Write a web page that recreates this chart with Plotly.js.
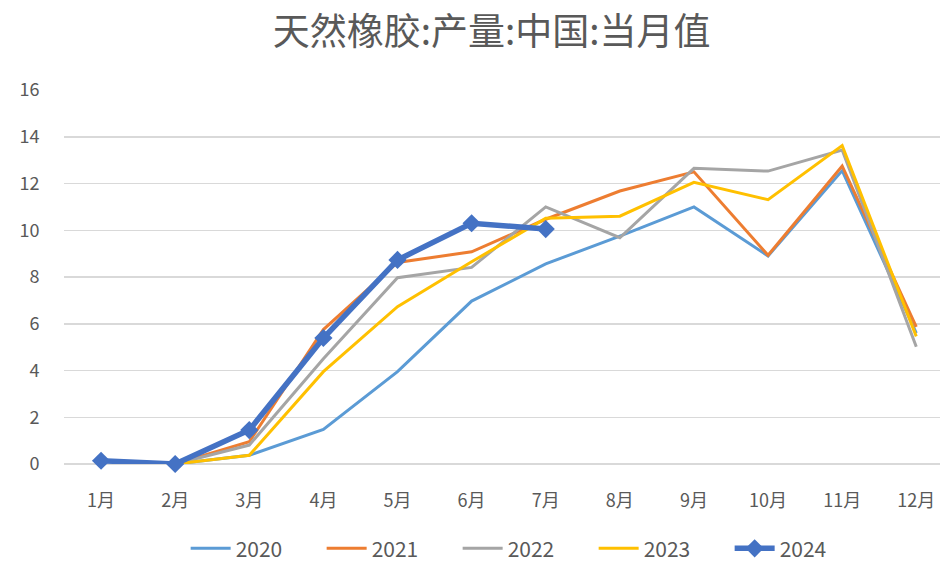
<!DOCTYPE html>
<html>
<head>
<meta charset="utf-8">
<script src="https://cdn.plot.ly/plotly-3.0.1.min.js"></script>
<style>
  html, body { margin: 0; padding: 0; background: #fff; }
  #chart { width: 940px; height: 561px; }
</style>
</head>
<body>
<div id="chart"></div>
<script>
var months = ['1月', '2月', '3月', '4月', '5月', '6月', '7月', '8月', '9月', '10月', '11月', '12月'];

// 2020-2023 have no January value (Jan+Feb reported together)
var y2020 = [null, 0, 0.37, 1.48, 3.95, 6.97, 8.56, 9.75, 11.0, 8.9, 12.55, 5.6];
var y2021 = [null, 0, 0.95, 5.75, 8.62, 9.08, 10.47, 11.68, 12.5, 8.93, 12.75, 5.87];
var y2022 = [null, 0, 0.81, 4.5, 7.97, 8.41, 11.0, 9.68, 12.65, 12.53, 13.43, 5.02];
var y2023 = [null, 0, 0.37, 3.95, 6.73, 8.65, 10.51, 10.6, 12.05, 11.31, 13.62, 5.46];
var y2024 = [0.14, 0, 1.45, 5.39, 8.73, 10.3, 10.05];

var yTicks = [0, 2, 4, 6, 8, 10, 12, 14, 16];

function plainLine(name, ys, color)
{
    return {
        x: months,
        y: ys,
        name: name,
        type: 'scatter',
        mode: 'lines',
        connectgaps: false,
        cliponaxis: false,
        line: {color: color, width: 3}
    };
}

var data = [
    plainLine('2020', y2020, '#5B9BD5'),
    plainLine('2021', y2021, '#ED7D31'),
    plainLine('2022', y2022, '#A5A5A5'),
    plainLine('2023', y2023, '#FFC000'),
    {
        x: months.slice(0, y2024.length),
        y: y2024,
        name: '2024',
        type: 'scatter',
        mode: 'lines+markers',
        cliponaxis: false,
        line: {color: '#4472C4', width: 5.5},
        marker: {symbol: 'diamond', size: 14, color: '#4472C4'}
    }
];

var layout = {
    width: 940,
    height: 561,
    margin: {l: 64, r: 0, t: 90, b: 97},
    paper_bgcolor: '#ffffff',
    plot_bgcolor: '#ffffff',
    font: {family: '"Noto Sans CJK SC", "Noto Sans", sans-serif', color: '#595959', size: 18},
    title: {
        text: '天然橡胶:产量:中国:当月值',
        font: {size: 37, color: '#595959'},
        x: 0.523, xanchor: 'center',
        y: 0.943, yanchor: 'middle'
    },
    xaxis: {
        type: 'category',
        range: [-0.5, 11.32],
        showgrid: false,
        zeroline: false,
        showline: false,
        ticks: 'outside',
        ticklen: 0,
        ticklabelstandoff: 20,
        tickfont: {size: 18}
    },
    yaxis: {
        range: [0, 16],
        tickvals: yTicks,
        showgrid: true,
        gridcolor: '#D9D9D9',
        gridwidth: 1.5,
        zeroline: true,
        zerolinecolor: '#D9D9D9',
        zerolinewidth: 1.5,
        showline: false,
        ticks: 'outside',
        ticklen: 0,
        ticklabelstandoff: 20,
        tickfont: {size: 18}
    },
    showlegend: true,
    legend: {
        orientation: 'h',
        x: 0.527, xanchor: 'center',
        yref: 'container', y: 0.022, yanchor: 'middle',
        font: {size: 21},
        itemwidth: 40,
        entrywidth: 81,
        entrywidthmode: 'pixels',
        traceorder: 'normal'
    },
    hovermode: false
};

Plotly.newPlot('chart', data, layout, {displayModeBar: false, staticPlot: true});
</script>
</body>
</html>
